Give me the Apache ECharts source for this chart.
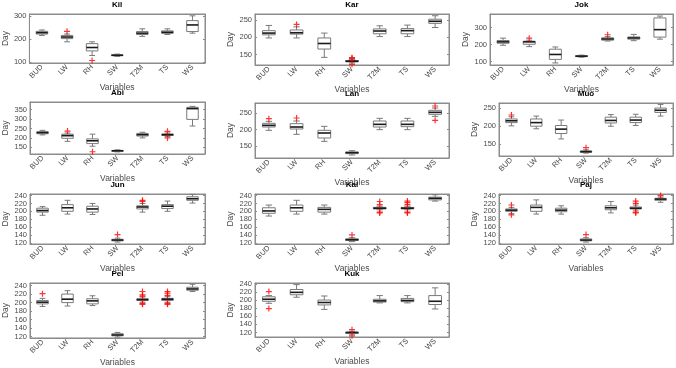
<!DOCTYPE html>
<html>
<head>
<meta charset="utf-8">
<script src="https://cdn.jsdelivr.net/npm/echarts@6/dist/echarts.min.js"></script>
<style>
  html, body { margin: 0; padding: 0; background: #fff; }
  #main { width: 676px; height: 368px; }
</style>
</head>
<body>
<div id="main"></div>
<script>
// 变量
var variables = ['BUD', 'LW', 'RH', 'SW', 'T2M', 'TS', 'WS'];

// 每个站点: [min, q1, median, q3, max] 按变量顺序
var kilBox = [[216, 222, 228, 234, 240], [188, 202, 209, 216, 222], [128, 148, 163, 180, 188], [124, 127, 129, 131, 134], [212, 220, 226, 233, 245], [220, 225, 230, 236, 245], [226, 233, 262, 281, 302]];
var kilOut = [[1, 234], [2, 106]];
var kilTicks = [100, 200, 300];

var karBox = [[198, 207, 212, 219, 234], [198, 209, 213, 221, 230], [142, 166, 182, 198, 212], [126, 129, 131, 133, 136], [202, 210, 218, 224, 233], [202, 210, 219, 225, 235], [228, 240, 246, 252, 262]];
var karOut = [[1, 237], [3, 122], [3, 139], [3, 141]];
var karTicks = [150, 200, 250];

var jokBox = [[196, 208, 216, 224, 238], [188, 202, 216, 220, 226], [92, 113, 142, 173, 186], [126, 129, 132, 135, 138], [221, 226, 233, 240, 247], [223, 232, 239, 245, 260], [232, 244, 288, 357, 368]];
var jokOut = [[1, 238], [4, 258]];
var jokTicks = [100, 200, 300];

var abiBox = [[216, 222, 228, 233, 240], [182, 198, 212, 220, 226], [156, 170, 185, 195, 220], [126, 129, 132, 134, 137], [200, 210, 217, 224, 230], [208, 213, 217, 221, 226], [263, 298, 355, 362, 367]];
var abiOut = [[1, 236], [2, 127], [5, 235], [5, 200]];
var abiTicks = [150, 200, 250, 300, 350];

var lanBox = [[198, 208, 213, 219, 225], [186, 202, 208, 218, 226], [165, 175, 190, 198, 210], [124, 128, 131, 133, 137], [200, 208, 216, 226, 234], [200, 209, 216, 226, 234], [240, 246, 252, 258, 265]];
var lanOut = [[0, 233], [1, 235], [6, 271], [6, 228]];
var lanTicks = [150, 200, 250];

var muoBox = [[201, 210, 215, 220, 226], [193, 200, 210, 220, 228], [165, 180, 192, 202, 217], [126, 128, 130, 132, 135], [200, 209, 216, 225, 232], [202, 210, 217, 225, 233], [228, 238, 244, 250, 260]];
var muoOut = [[0, 231], [3, 141]];
var muoTicks = [150, 200, 250];

var junBox = [[190, 198, 202, 208, 212], [193, 200, 209, 217, 228], [192, 198, 206, 213, 220], [122, 125, 127, 129, 132], [198, 206, 211, 214, 220], [200, 207, 213, 217, 226], [221, 228, 232, 237, 243]];
var junOut = [[3, 141], [4, 225], [4, 228]];
var junTicks = [120, 140, 160, 180, 200, 220, 240];

var kalBox = [[188, 195, 201, 209, 216], [193, 200, 209, 216, 228], [193, 198, 205, 210, 216], [123, 126, 128, 130, 133], [204, 206, 208, 210, 213], [204, 206, 208, 210, 213], [226, 229, 233, 236, 242]];
var kalOut = [[3, 140], [4, 225], [4, 217], [4, 198], [4, 196], [5, 226], [5, 222], [5, 217], [5, 198], [5, 196]];
var kalTicks = [120, 140, 160, 180, 200, 220, 240];

var pajBox = [[194, 200, 203, 206, 210], [193, 200, 210, 216, 229], [193, 199, 203, 208, 214], [122, 125, 127, 130, 133], [196, 204, 209, 214, 225], [203, 206, 208, 211, 216], [223, 228, 231, 233, 236]];
var pajOut = [[0, 216], [0, 191], [3, 141], [5, 226], [5, 220], [5, 198], [5, 196], [6, 240]];
var pajTicks = [120, 140, 160, 180, 200, 220, 240];

var pelBox = [[191, 197, 201, 205, 210], [192, 200, 208, 220, 228], [193, 197, 204, 209, 216], [119, 122, 124, 127, 130], [201, 205, 207, 209, 213], [201, 205, 208, 210, 214], [226, 229, 232, 236, 243]];
var pelOut = [[0, 221], [4, 226], [4, 218], [4, 215], [4, 198], [4, 196], [5, 226], [5, 222], [5, 217], [5, 198], [5, 196]];
var pelTicks = [120, 140, 160, 180, 200, 220, 240];

var kukBox = [[192, 197, 202, 208, 211], [207, 213, 219, 226, 238], [177, 188, 194, 200, 210], [116, 118, 120, 121, 123], [193, 195, 198, 202, 211], [193, 196, 199, 204, 211], [178, 189, 197, 211, 230]];
var kukOut = [[0, 221], [0, 179], [3, 127], [3, 112]];
var kukTicks = [120, 140, 160, 180, 200, 220, 240];

// 子图: 名称, 数据, 位置, y轴范围
var panels = [
  { name: 'Kil', box: kilBox, out: kilOut, ticks: kilTicks, ymin: 95, ymax: 310, left: 29, top: 9, width: 176, height: 54 },
  { name: 'Kar', box: karBox, out: karOut, ticks: karTicks, ymin: 120, ymax: 267, left: 255, top: 9, width: 194, height: 56 },
  { name: 'Jok', box: jokBox, out: jokOut, ticks: jokTicks, ymin: 80, ymax: 380, left: 490, top: 9, width: 183, height: 56 },
  { name: 'Abi', box: abiBox, out: abiOut, ticks: abiTicks, ymin: 115, ymax: 390, left: 30, top: 102, width: 175, height: 52 },
  { name: 'Lan', box: lanBox, out: lanOut, ticks: lanTicks, ymin: 115, ymax: 280, left: 255, top: 103, width: 194, height: 55 },
  { name: 'Muo', box: muoBox, out: muoOut, ticks: muoTicks, ymin: 118, ymax: 264, left: 499, top: 103, width: 174, height: 53 },
  { name: 'Jun', box: junBox, out: junOut, ticks: junTicks, ymin: 117, ymax: 244, left: 30, top: 194, width: 175, height: 50 },
  { name: 'Kal', box: kalBox, out: kalOut, ticks: kalTicks, ymin: 117, ymax: 244, left: 255, top: 194, width: 194, height: 50 },
  { name: 'Paj', box: pajBox, out: pajOut, ticks: pajTicks, ymin: 117, ymax: 244, left: 499, top: 194, width: 174, height: 50 },
  { name: 'Pel', box: pelBox, out: pelOut, ticks: pelTicks, ymin: 117, ymax: 246, left: 30, top: 283, width: 175, height: 56 },
  { name: 'Kuk', box: kukBox, out: kukOut, ticks: kukTicks, ymin: 109, ymax: 242, left: 255, top: 283, width: 194, height: 54 }
];

var axisGray = '#8c8c8c';
var labelGray = '#4a4a4a';
var fontFam = 'Liberation Sans, Arial, sans-serif';

// 画箱线图 (MATLAB风格: 灰色箱体, 黑色中位线, 半宽端线)
function renderBox(params, api) {
  var x = api.value(0);
  var lo = api.coord([x, api.value(1)]);
  var q1 = api.coord([x, api.value(2)]);
  var md = api.coord([x, api.value(3)]);
  var q3 = api.coord([x, api.value(4)]);
  var hi = api.coord([x, api.value(5)]);
  var bw = api.size([1, 0])[0] * 0.46;
  var cx = lo[0];
  var line = { stroke: '#7a7a7a', lineWidth: 1, fill: null };
  return {
    type: 'group',
    children: [
      { type: 'line', shape: { x1: cx, y1: q3[1], x2: cx, y2: hi[1] }, style: line },
      { type: 'line', shape: { x1: cx, y1: q1[1], x2: cx, y2: lo[1] }, style: line },
      { type: 'line', shape: { x1: cx - bw / 4, y1: hi[1], x2: cx + bw / 4, y2: hi[1] }, style: line },
      { type: 'line', shape: { x1: cx - bw / 4, y1: lo[1], x2: cx + bw / 4, y2: lo[1] }, style: line },
      { type: 'rect', shape: { x: cx - bw / 2, y: q3[1], width: bw, height: q1[1] - q3[1] }, style: { stroke: '#7a7a7a', lineWidth: 1, fill: '#fff' } },
      { type: 'line', shape: { x1: cx - bw / 2, y1: md[1], x2: cx + bw / 2, y2: md[1] }, style: { stroke: '#1a1a1a', lineWidth: 1.6 } }
    ]
  };
}

var grid = [], xAxis = [], yAxis = [], series = [];

panels.forEach(function (p, i) {
  grid.push({ left: p.left, top: p.top, width: p.width, height: p.height, show: true, borderColor: axisGray, borderWidth: 1, backgroundColor: '#fff' });

  // 底部x轴
  xAxis.push({
    type: 'category', gridIndex: i, data: variables, position: 'bottom',
    name: 'Variables', nameLocation: 'middle', nameGap: 20,
    nameTextStyle: { fontSize: 8.5, color: labelGray, fontFamily: fontFam },
    axisLine: { lineStyle: { color: axisGray } },
    axisTick: { inside: true, alignWithLabel: true, length: 2, lineStyle: { color: axisGray } },
    axisLabel: { rotate: 45, fontSize: 7.5, color: labelGray, margin: 3, fontFamily: fontFam, interval: 0 }
  });
  // 顶部x轴 (标题)
  xAxis.push({
    type: 'category', gridIndex: i, data: variables, position: 'top',
    name: p.name, nameLocation: 'middle', nameGap: 5,
    nameTextStyle: { fontSize: 8, fontWeight: 'bold', color: '#000', fontFamily: fontFam },
    axisLine: { lineStyle: { color: axisGray } },
    axisTick: { inside: true, alignWithLabel: true, length: 2, lineStyle: { color: axisGray } },
    axisLabel: { show: false }
  });

  // 左y轴
  yAxis.push({
    type: 'value', gridIndex: i, min: p.ymin, max: p.ymax, position: 'left',
    name: 'Day', nameLocation: 'middle', nameGap: 19, nameRotate: 90,
    nameTextStyle: { fontSize: 8.5, color: labelGray, fontFamily: fontFam },
    axisLine: { show: true, lineStyle: { color: axisGray } },
    axisTick: { show: true, inside: true, length: 2, customValues: p.ticks, lineStyle: { color: axisGray } },
    axisLabel: {
      fontSize: 7.5, color: labelGray, margin: 3, fontFamily: fontFam,
      customValues: p.ticks, showMinLabel: true, showMaxLabel: true, hideOverlap: false
    },
    splitLine: { show: false }
  });
  // 右y轴
  yAxis.push({
    type: 'value', gridIndex: i, min: p.ymin, max: p.ymax, position: 'right',
    axisLine: { show: true, lineStyle: { color: axisGray } },
    axisTick: { show: true, inside: true, length: 2, customValues: p.ticks, lineStyle: { color: axisGray } },
    axisLabel: { show: false },
    splitLine: { show: false }
  });

  var boxData = p.box.map(function (b, k) { return [k].concat(b); });
  series.push({
    type: 'custom', xAxisIndex: 2 * i, yAxisIndex: 2 * i,
    renderItem: renderBox,
    encode: { x: 0, y: [1, 2, 3, 4, 5] },
    data: boxData, silent: true
  });
  // 异常值 (红色 +)
  series.push({
    type: 'scatter', xAxisIndex: 2 * i, yAxisIndex: 2 * i,
    symbol: 'path://M4,0H6V4H10V6H6V10H4V6H0V4H4Z',
    symbolSize: 6,
    itemStyle: { color: '#ff0000' },
    data: p.out, silent: true, z: 5
  });
});

var myChart = echarts.init(document.getElementById('main'), null, { renderer: 'canvas' });
var option = {
  animation: false,
  textStyle: { fontFamily: fontFam },
  grid: grid,
  xAxis: xAxis,
  yAxis: yAxis,
  series: series
};
myChart.setOption(option);
</script>
</body>
</html>
